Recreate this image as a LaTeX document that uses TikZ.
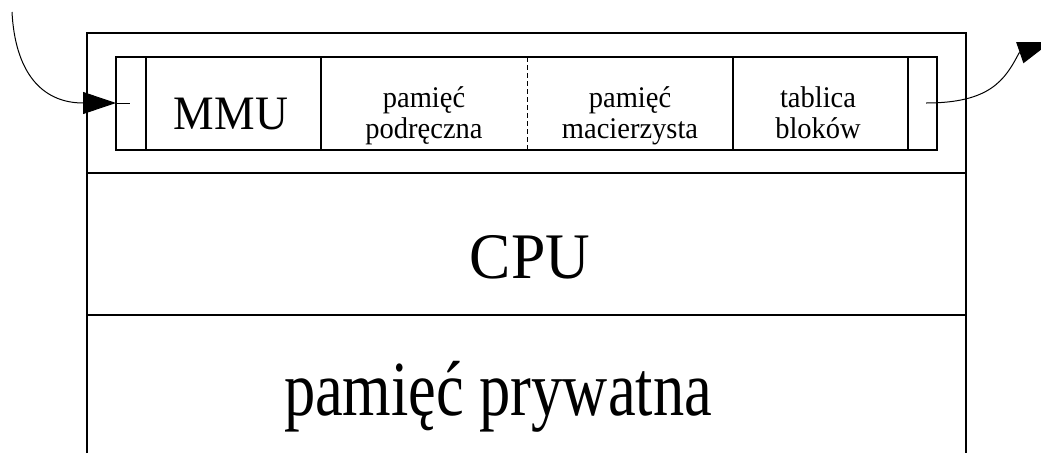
\documentclass[tikz,border=0pt]{standalone}
\usepackage{fontspec}
\setmainfont[FakeStretch=0.95]{Liberation Serif}
\newfontfamily\narrowserif[FakeStretch=0.8]{Liberation Serif}
\usetikzlibrary{arrows.meta}
\tikzset{>={Triangle[length=33pt,width=22pt]}}
\tikzset{
  unit/.style={font=\fontsize{30}{31}\selectfont,align=center,inner sep=0pt},
  wire/.style={line width=1pt},
}

\begin{document}
\begin{tikzpicture}[x=1pt,y=-1pt,line width=1.2pt]
  \useasboundingbox (0,0) rectangle (1041,453);
  % frame of the node
  \draw (87,453) -- (87,33) -- (966,33) -- (966,453);
  \draw (87,173) -- (966,173) (87,315) -- (966,315);
  % bus interface
  \draw (116,57) rectangle (937,150);
  \foreach \x in {146,321,733,908}
    \draw (\x,57) -- (\x,150);
  \draw[line width=0.8pt,dash pattern=on 5pt off 3pt] (527,57) -- (527,150);
  \node[anchor=base,inner sep=0pt,font=\fontsize{48}{50}\selectfont] (mmu) at (231,129) {MMU};
  \node[unit] (cache) at (424,116.5) {\strut pamięć\\\strut podręczna};
  \node[unit] (home) at (630,116.5) {\strut pamięć\\\strut macierzysta};
  \node[unit] (blocks) at (818,116.5) {\strut tablica\\\strut bloków};
  % processor and local memory
  \node[anchor=base,inner sep=0pt,font=\fontsize{65}{68}\selectfont] (cpu) at (530,278) {CPU};
  \node[anchor=base,inner sep=0pt,font=\narrowserif\fontsize{78}{80}\selectfont] (priv) at (498,415) {pamięć prywatna};
  % links to the network
  \coordinate (src) at (12,12);
  \coordinate (pin) at (116,103);
  \coordinate (pout) at (926,103);
  \coordinate (dst) at (1051,42);
  \draw[wire,->] (src) .. controls (15,70) and (40,103) .. (pin);
  \draw[wire] (pin) -- ++(14,0);
  \draw[wire,->] (pout) .. controls (990,103) and (1005,80) .. (1019,53) -- (dst);
\end{tikzpicture}
\end{document}
